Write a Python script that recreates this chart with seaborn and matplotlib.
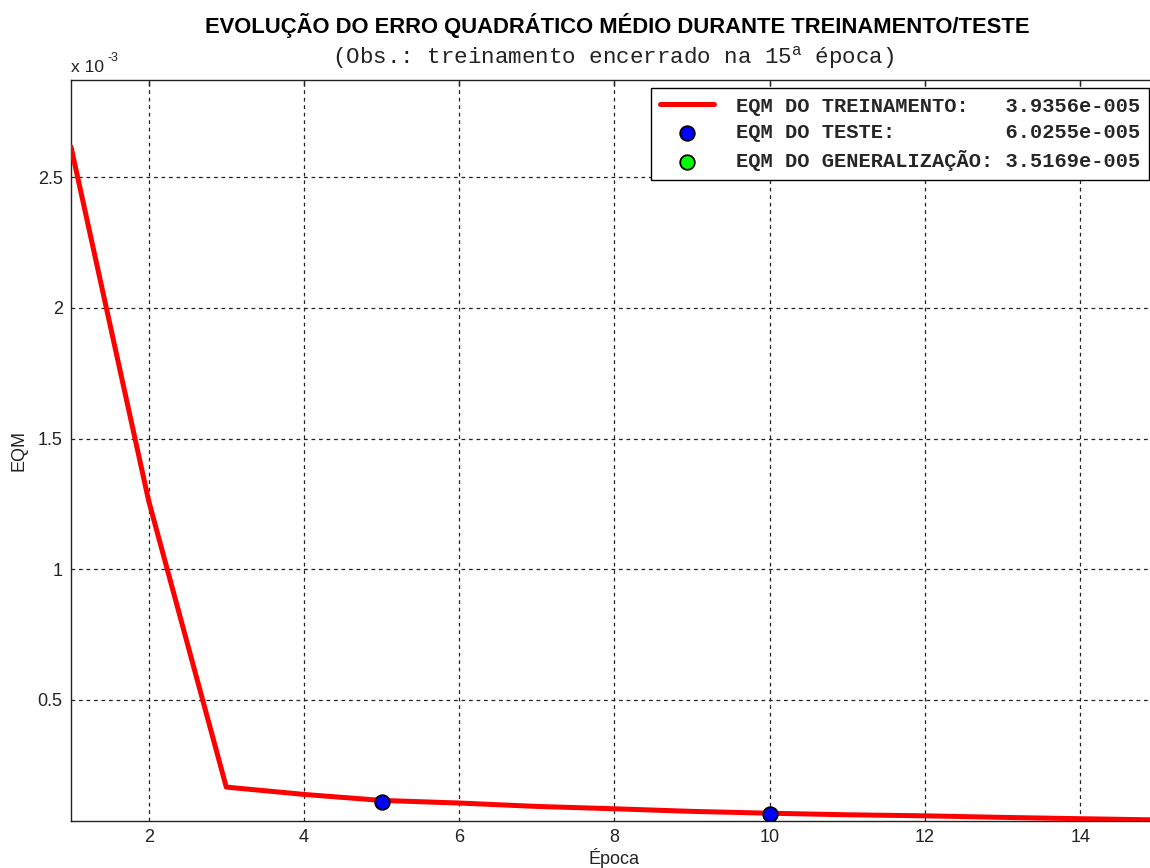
import matplotlib
matplotlib.use("Agg")
import matplotlib.pyplot as plt
import seaborn as sns
import pandas as pd
from matplotlib.ticker import FuncFormatter, FixedLocator

# Training curve: mean squared error per epoch
epochs = [1, 2, 3, 4, 5, 6, 7, 8, 9, 10, 11, 12, 13, 14, 15]
eqm_treino = [2.617e-3, 1.262e-3, 0.165e-3, 0.137e-3, 0.114e-3, 0.104e-3,
              0.091e-3, 0.082e-3, 0.072e-3, 0.065e-3, 0.059e-3, 0.055e-3,
              0.049e-3, 0.044e-3, 3.9356e-5]

# Test checkpoints
epocas_teste = [5, 10]
eqm_teste = [0.108e-3, 6.0255e-5]

# Generalization result at the final epoch
epocas_gen = [15]
eqm_gen = [3.5169e-5]

x_ticks = [2, 4, 6, 8, 10, 12, 14]
y_ticks = [0.5e-3, 1.0e-3, 1.5e-3, 2.0e-3, 2.5e-3]

label_treino = "EQM DO TREINAMENTO:   3.9356e-005"
label_teste = "EQM DO TESTE:         6.0255e-005"
label_gen = "EQM DO GENERALIZAÇÃO: 3.5169e-005"

sns.set_style("white")
plt.rcParams["font.family"] = ["Liberation Sans", "DejaVu Sans"]
plt.rcParams["mathtext.fontset"] = "custom"
plt.rcParams["mathtext.rm"] = "Liberation Mono"
plt.rcParams["mathtext.tt"] = "Liberation Mono"

df_treino = pd.DataFrame({"epoca": epochs, "eqm": eqm_treino})
df_teste = pd.DataFrame({"epoca": epocas_teste, "eqm": eqm_teste})
df_gen = pd.DataFrame({"epoca": epocas_gen, "eqm": eqm_gen})

W, H = 1150, 868
fig = plt.figure(figsize=(W / 100, H / 100), dpi=100)
ax = fig.add_axes([71 / W, 1 - 821 / H, (1158 - 71) / W, (821 - 79.5) / H])

sns.lineplot(data=df_treino, x="epoca", y="eqm", ax=ax, color="#ff0000",
             linewidth=3.6, label=label_treino, zorder=3)
sns.scatterplot(data=df_teste, x="epoca", y="eqm", ax=ax, color="#0000ff",
                edgecolor="black", linewidth=1.3, s=110, label=label_teste,
                zorder=4)
sns.scatterplot(data=df_gen, x="epoca", y="eqm", ax=ax, color="#00ff00",
                edgecolor="black", linewidth=1.3, s=110, label=label_gen,
                zorder=4)

ax.set_xlim(1, 15)
ax.set_ylim(3.5169e-5, 2.875e-3)
ax.xaxis.set_major_locator(FixedLocator(x_ticks))
ax.yaxis.set_major_locator(FixedLocator(y_ticks))
ax.yaxis.set_major_formatter(FuncFormatter(lambda v, p: f"{v * 1e3:g}"))

ax.grid(True, color="#222222", linestyle=(0, (3, 3)), linewidth=0.9)
ax.set_axisbelow(True)
for s in ax.spines.values():
    s.set_color("#222222")
    s.set_linewidth(1.0)
ax.tick_params(direction="in", length=4.5, width=1.0, color="#222222",
               top=True, right=True, labelsize=13, labelcolor="#222222",
               pad=6)

ax.set_xlabel("Época", fontsize=13, color="#222222", labelpad=1)
ax.set_ylabel("EQM", fontsize=13, color="#222222", labelpad=7)

# Axis multiplier written as plain text with a raised exponent
fig.text(71 / W, 1 - 72 / H, "x 10", fontsize=12.5, color="#222222",
         ha="left", va="baseline")
fig.text(108 / W, 1 - 61 / H, "-3", fontsize=9, color="#222222",
         ha="left", va="baseline")

fig.text(617 / W, 1 - 25 / H,
         "EVOLUÇÃO DO ERRO QUADRÁTICO MÉDIO DURANTE TREINAMENTO/TESTE",
         fontsize=15.8, color="black", ha="center", va="center",
         fontweight="bold")
fig.text(613 / W, 1 - 58 / H,
         r"(Obs.: treinamento encerrado na 15$^{\mathtt{a}}$ época)",
         fontsize=16.2, family="Liberation Mono", color="#222222",
         ha="center", va="center")

handles, labels = ax.get_legend_handles_labels()
leg = ax.legend(handles, labels, loc="upper right",
                bbox_to_anchor=(1149 / W, 1 - 88 / H),
                bbox_transform=fig.transFigure, borderaxespad=0,
                prop={"family": "Liberation Mono", "weight": "bold",
                      "size": 14.7},
                frameon=True, fancybox=False, edgecolor="black",
                framealpha=1, handlelength=2.65, handletextpad=1.08,
                labelspacing=0.38, borderpad=0.42, markerscale=1.0)
leg.get_frame().set_linewidth(1.0)

fig.savefig("out.png", dpi=100)
